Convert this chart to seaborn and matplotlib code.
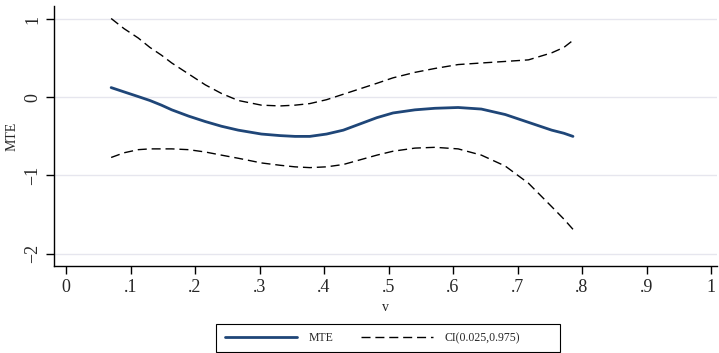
import pandas as pd
import matplotlib.pyplot as plt
import matplotlib.patches as mpatches
import seaborn as sns

# values
v = [0.07, 0.09, 0.112, 0.13, 0.148, 0.164, 0.19, 0.216, 0.241, 0.267, 0.303, 0.332,
     0.355, 0.378, 0.404, 0.43, 0.456, 0.482, 0.507, 0.541, 0.572, 0.608, 0.644,
     0.681, 0.717, 0.753, 0.772, 0.786]
mte = [0.125, 0.07, 0.01, -0.04, -0.10, -0.16, -0.24, -0.31, -0.37, -0.42, -0.47, -0.49,
       -0.50, -0.50, -0.47, -0.42, -0.34, -0.26, -0.20, -0.16, -0.14, -0.13, -0.15,
       -0.22, -0.32, -0.42, -0.46, -0.50]
ci_hi = [1.01, 0.88, 0.76, 0.64, 0.54, 0.44, 0.30, 0.16, 0.05, -0.04, -0.10, -0.11,
         -0.10, -0.08, -0.03, 0.04, 0.11, 0.18, 0.25, 0.32, 0.37, 0.42, 0.44,
         0.46, 0.48, 0.57, 0.64, 0.73]
ci_lo = [-0.77, -0.71, -0.67, -0.66, -0.66, -0.66, -0.67, -0.70, -0.74, -0.78, -0.84, -0.87,
         -0.89, -0.90, -0.89, -0.86, -0.80, -0.74, -0.69, -0.65, -0.64, -0.66, -0.74,
         -0.88, -1.10, -1.40, -1.56, -1.69]

xticks = [0, .1, .2, .3, .4, .5, .6, .7, .8, .9, 1]
xlabels = ["0", ".1", ".2", ".3", ".4", ".5", ".6", ".7", ".8", ".9", "1"]
yticks = [-2, -1, 0, 1]
ylabels = ["\u22122", "\u22121", "0", "1"]

df = pd.DataFrame({"v": v, "MTE": mte, "hi": ci_hi, "lo": ci_lo})

sns.set_style("white")
plt.rcParams["font.family"] = ["Liberation Serif", "DejaVu Serif"]

fig = plt.figure(figsize=(7.19, 3.53), dpi=100)
ax = fig.add_axes([54 / 719, 1 - 266 / 353, (717 - 54) / 719, (266 - 6) / 353])

navy = "#1f4678"
sns.lineplot(data=df, x="v", y="MTE", ax=ax, color=navy, lw=2.0, label="MTE")
sns.lineplot(data=df, x="v", y="hi", ax=ax, color="black", lw=1.0,
             label="CI(0.025,0.975)")
sns.lineplot(data=df, x="v", y="lo", ax=ax, color="black", lw=1.0, label="_nolegend_")
for ln in ax.lines[1:]:
    ln.set_linestyle((0, (6.5, 3.5)))

ax.set_xlim((54 - 66) / 645, (717 - 66) / 645)
ax.set_ylim(-2.16, 1.17)
ax.set_xticks(xticks)
ax.set_xticklabels(xlabels)
ax.set_yticks(yticks)
ax.set_yticklabels(ylabels, rotation=90, va="center")
for y in yticks:
    ax.axhline(y, color="#e6e6ee", lw=1.0, zorder=0)

ax.tick_params(axis="both", labelsize=13, length=6, width=1.0, color="black",
               direction="out", pad=3)
ax.tick_params(axis="x", bottom=True)
ax.tick_params(axis="y", left=True)
sns.despine(ax=ax, top=True, right=True)
for s in ["left", "bottom"]:
    ax.spines[s].set_color("black")
    ax.spines[s].set_linewidth(1.0)

ax.set_xlabel("v", fontsize=10, labelpad=4)
ax.set_ylabel("MTE", fontsize=10, labelpad=4)

# legend: Stata-style box, wider than its content
handles, labels = ax.get_legend_handles_labels()
ax.get_legend().remove()
fig.legend(handles, labels, loc="center left", ncol=2,
           bbox_to_anchor=(225 / 719, 1 - 338 / 353), fontsize=8.5,
           frameon=False, handlelength=6.1, handletextpad=0.95,
           columnspacing=2.4, borderpad=0, borderaxespad=0)
fig.patches.append(mpatches.Rectangle((216 / 719, 1 - 352 / 353), (560 - 216) / 719,
                                      (352 - 324) / 353, transform=fig.transFigure,
                                      fill=False, ec="black", lw=0.8))

fig.savefig("out.png", dpi=100)
